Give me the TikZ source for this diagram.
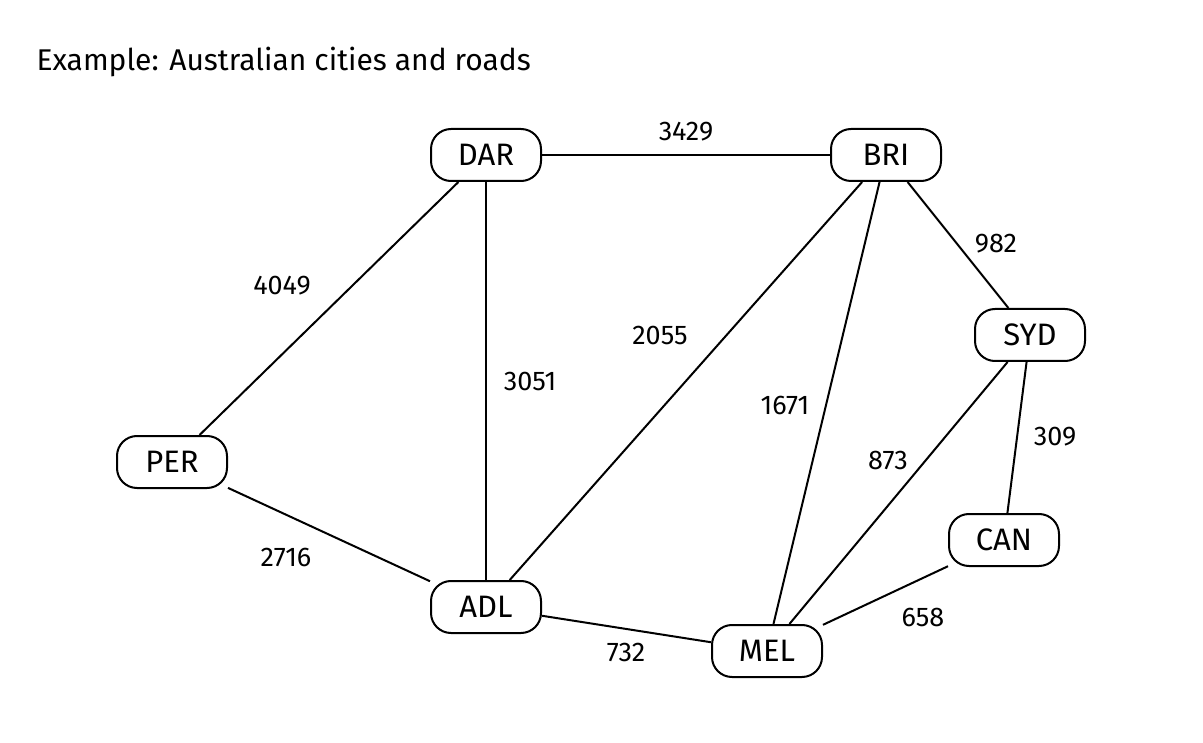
\documentclass[tikz,border=0pt]{standalone}
\usepackage{fontspec}
\setmainfont{Fira Sans}
\begin{document}
\begin{tikzpicture}[x=1pt,y=-1pt,
  city/.style={draw,line width=2pt,rounded corners=20pt,minimum width=110pt,minimum height=52pt,font=\fontsize{31}{36}\selectfont,inner sep=0pt},
  lab/.style={font=\fontsize{27}{32}\selectfont},
  road/.style={line width=2pt}]
\useasboundingbox (0,0) rectangle (1203,743);
\node[anchor=west,font=\fontsize{30}{36}\selectfont] (t) at (33,62) {Example: Australian cities and roads};
\node[city] (DAR) at (486,155) {DAR};
\node[city] (BRI) at (886,155) {BRI};
\node[city] (SYD) at (1030,335) {SYD};
\node[city] (PER) at (172,462) {PER};
\node[city] (CAN) at (1004,540) {CAN};
\node[city] (ADL) at (486,607) {ADL};
\node[city] (MEL) at (767,651) {MEL};
\draw[road] (DAR)--(BRI);
\draw[road] (DAR)--(PER);
\draw[road] (DAR)--(ADL);
\draw[road] (BRI)--(ADL);
\draw[road] (BRI)--(SYD);
\draw[road] (BRI)--(MEL);
\draw[road] (SYD)--(MEL);
\draw[road] (SYD)--(CAN);
\draw[road] (PER)--(ADL);
\draw[road] (ADL)--(MEL);
\draw[road] (CAN)--(MEL);
\node[lab] (l1) at (686,132) {3429};
\node[lab] (l2) at (282,286) {4049};
\node[lab] (l3) at (530,381) {3051};
\node[lab] (l4) at (660,335) {2055};
\node[lab] (l5) at (996,244) {982};
\node[lab] (l6) at (785,405) {1671};
\node[lab] (l7) at (888,460) {873};
\node[lab] (l8) at (1055,437) {309};
\node[lab] (l9) at (286,557) {2716};
\node[lab] (l10) at (626,652) {732};
\node[lab] (l11) at (923,617) {658};
\end{tikzpicture}
\end{document}
